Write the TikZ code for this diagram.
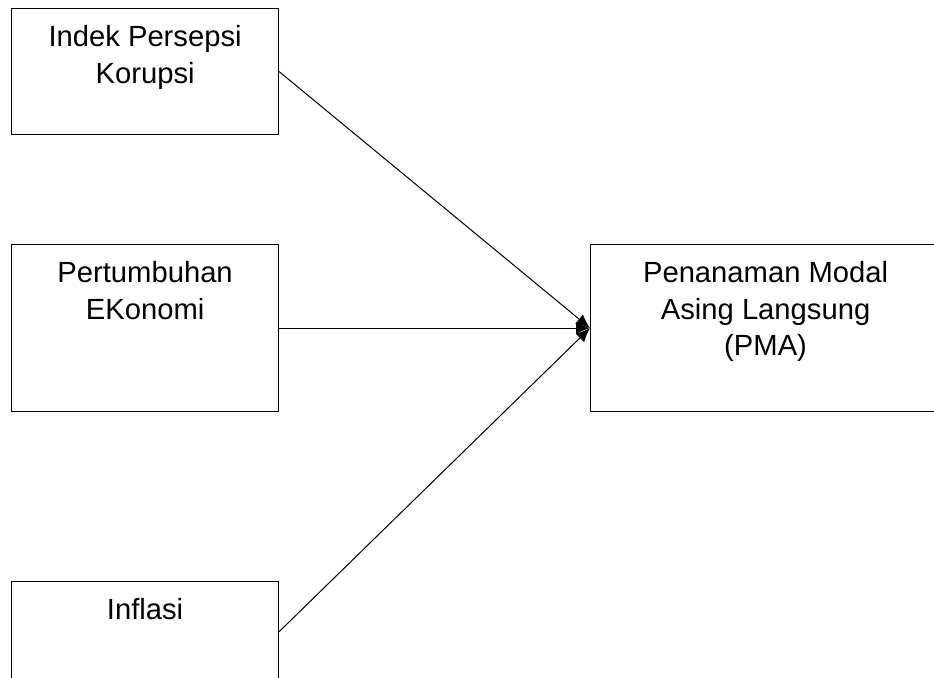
\documentclass[tikz,border=0pt]{standalone}
\usepackage{fontspec}
\setmainfont{Liberation Sans}
\usetikzlibrary{positioning}
\usetikzlibrary{arrows.meta}

\begin{document}
\begin{tikzpicture}[>={Latex[length=7pt,width=6pt]},x=0.5pt,y=-0.5pt]
      \tikzset{blok/.style={draw,line width=0.6pt,anchor=north west,minimum width=133.5pt,inner sep=0pt},
        teks/.style={anchor=north,align=center,inner sep=0pt,font=\fontsize{14.6}{18.3}\selectfont}}
      \useasboundingbox (0,0) rectangle (934,677);
      \clip (0,0) rectangle (934,677);
      \node[blok,minimum height=63pt] (ipk) at (11,8) {};
      \node[blok,minimum height=83.5pt] (pe) at (11,244) {};
      \node[blok,minimum height=50pt] (inf) at (11,581) {};
      \node[blok,minimum height=83.5pt,minimum width=175pt] (pma) at (590,244) {};
      \node[teks,below=8.5pt of ipk.north] (tipk) {Indek Persepsi\\Korupsi};
      \node[teks,below=8.5pt of pe.north] (tpe) {Pertumbuhan\\EKonomi};
      \node[teks,below=8.5pt of inf.north] (tinf) {Inflasi};
      \node[teks,below=8.5pt of pma.north] (tpma) {Penanaman Modal\\Asing Langsung\\(PMA)};
      \draw[->,line width=0.5pt] (ipk.east) -- (pma.west);
      \draw[->,line width=0.5pt] (pe.east) -- (pma.west);
      \draw[->,line width=0.5pt] (inf.east) -- (pma.west);
    \end{tikzpicture}
\end{document}
